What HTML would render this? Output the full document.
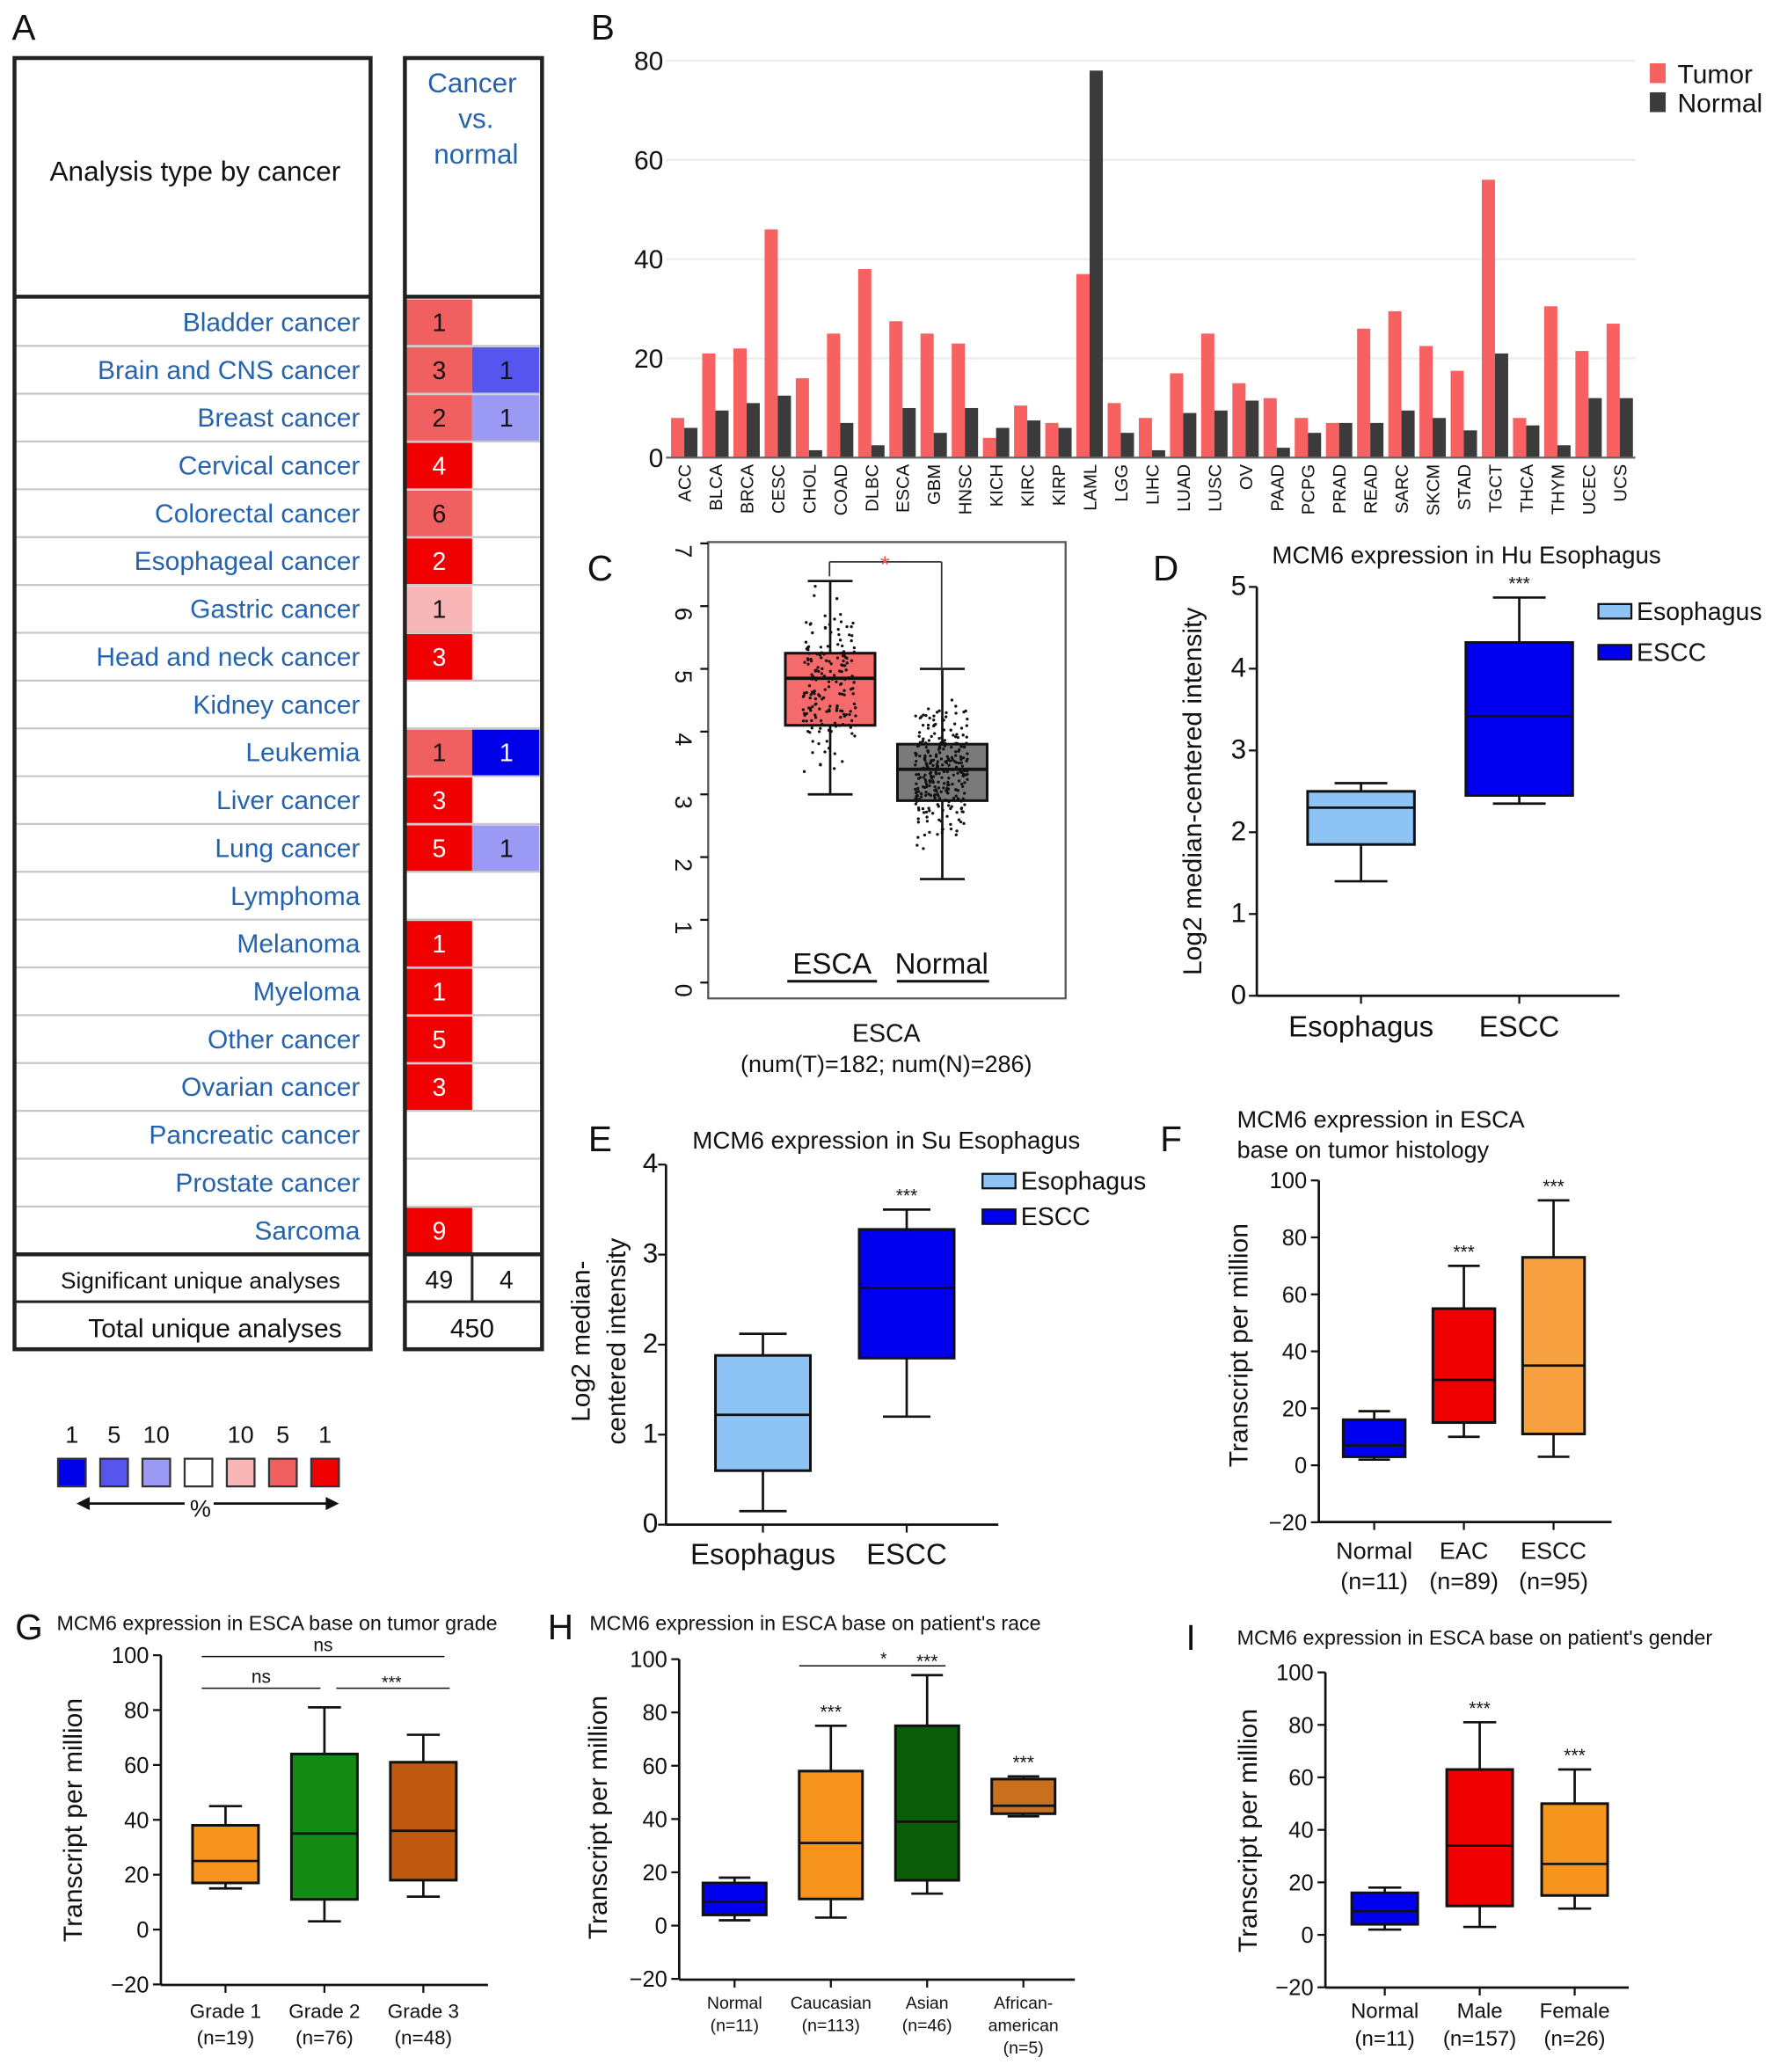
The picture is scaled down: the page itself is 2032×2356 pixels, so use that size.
<!DOCTYPE html>
<html><head><meta charset="utf-8"><style>
html,body{margin:0;padding:0;background:#fff}
svg{display:block;font-family:"Liberation Sans",Arial,sans-serif}
</style></head><body>
<svg id="fig" width="2032" height="2356" viewBox="0 0 1355 1571" preserveAspectRatio="none" xmlns="http://www.w3.org/2000/svg"></svg>
<script>
// ---------- DATA ----------
const bCats=["ACC","BLCA","BRCA","CESC","CHOL","COAD","DLBC","ESCA","GBM","HNSC","KICH","KIRC","KIRP","LAML","LGG","LIHC","LUAD","LUSC","OV","PAAD","PCPG","PRAD","READ","SARC","SKCM","STAD","TGCT","THCA","THYM","UCEC","UCS"];
const bTumor=[8,21,22,46,16,25,38,27.5,25,23,4,10.5,7,37,11,8,17,25,15,12,8,7,26,29.5,22.5,17.5,56,8,30.5,21.5,27];
const bNormal=[6,9.5,11,12.5,1.5,7,2.5,10,5,10,6,7.5,6,78,5,1.5,9,9.5,11.5,2,5,7,7,9.5,8,5.5,21,6.5,2.5,12,12];
const bTicks=[0,20,40,60,80];

const aRows=["Bladder cancer","Brain and CNS cancer","Breast cancer","Cervical cancer","Colorectal cancer","Esophageal cancer","Gastric cancer","Head and neck cancer","Kidney cancer","Leukemia","Liver cancer","Lung cancer","Lymphoma","Melanoma","Myeloma","Other cancer","Ovarian cancer","Pancreatic cancer","Prostate cancer","Sarcoma"];
const aUp=[1,3,2,4,6,2,1,3,0,1,3,5,0,1,1,5,3,0,0,9];
const aUpRank=[2,2,2,1,2,1,3,1,0,2,1,1,0,1,1,1,1,0,0,1];
const aDown=[0,1,1,0,0,0,0,0,0,1,0,1,0,0,0,0,0,0,0,0];
const aDownRank=[0,2,3,0,0,0,0,0,0,1,0,3,0,0,0,0,0,0,0,0];

const cCats=["ESCA","Normal"];
const cLow=[3.0,1.65],cQ1=[4.1,2.9],cMed=[4.85,3.4],cQ3=[5.25,3.8],cHigh=[6.4,5.0];
const cTicks=[0,1,2,3,4,5,6,7];

const dCats=["Esophagus","ESCC"];
const dLow=[1.4,2.35],dQ1=[1.85,2.45],dMed=[2.3,3.42],dQ3=[2.5,4.32],dHigh=[2.6,4.87];
const dTicks=[0,1,2,3,4,5];

const eCats=["Esophagus","ESCC"];
const eLow=[0.15,1.2],eQ1=[0.6,1.85],eMed=[1.22,2.63],eQ3=[1.88,3.28],eHigh=[2.12,3.5];
const eTicks=[0,1,2,3,4];

const fCats=["Normal","EAC","ESCC"],fN=["(n=11)","(n=89)","(n=95)"];
const fLow=[2,10,3],fQ1=[3,15,11],fMed=[7,30,35],fQ3=[16,55,73],fHigh=[19,70,93];
const tpmTicks=[-20,0,20,40,60,80,100];

const gCats=["Grade 1","Grade 2","Grade 3"],gN=["(n=19)","(n=76)","(n=48)"];
const gLow=[15,3,12],gQ1=[17,11,18],gMed=[25,35,36],gQ3=[38,64,61],gHigh=[45,81,71];

const hCats=["Normal","Caucasian","Asian","African-"],hN=["(n=11)","(n=113)","(n=46)","american"];
const hLow=[2,3,12,41],hQ1=[4,10,17,42],hMed=[9,31,39,45],hQ3=[16,58,75,55],hHigh=[18,75,94,56];

const iCats=["Normal","Male","Female"],iN=["(n=11)","(n=157)","(n=26)"];
const iLow=[2,3,10],iQ1=[4,11,15],iMed=[9,34,27],iQ3=[16,63,50],iHigh=[18,81,63];

// ---------- HELPERS ----------
const NS="http://www.w3.org/2000/svg";
const svg=document.getElementById('fig');
function el(tag,attrs,name){
  const e=document.createElementNS(NS,tag);
  for(const k in attrs)e.setAttribute(k,attrs[k]);
  
  
  svg.appendChild(e);return e;
}
function txt(x,y,s,size,name,opt){
  opt=opt||{};
  const a={x:x,y:y,'font-size':size,fill:opt.fill||'#111','text-anchor':opt.anchor||'middle'};
  if(opt.rot!==undefined)a.transform='rotate('+opt.rot+' '+x+' '+y+')';
  if(opt.weight)a['font-weight']=opt.weight;
  const t=el('text',a,name);t.textContent=s;return t;
}
function line(x1,y1,x2,y2,name,w,c){return el('line',{x1:x1,y1:y1,x2:x2,y2:y2,stroke:c||'#111','stroke-width':w||1.5},name);}
function rect(x,y,w,h,fill,name,stroke,sw){const a={x:x,y:y,width:w,height:h,fill:fill};if(stroke){a.stroke=stroke;a['stroke-width']=sw||2;}return el('rect',a,name);}

function boxPanel(o){
  const ys=v=>o.y0+(v-o.v0)*(o.y1-o.y0)/(o.v1-o.v0);
  const n=o.cats.length;
  const band=(o.xEnd-o.xStart)/n;
  if(o.axes){
    line(o.ax,o.y1,o.ax,o.yBottom,'y-axis-line',1.8);
    line(o.ax,o.yBottom,o.axEnd,o.yBottom,'x-axis-line',1.8);
  }
  o.ticks.forEach(t=>{
    line(o.ax-6,ys(t),o.ax,ys(t),'y-tick',1.5);
    txt(o.ax-(o.tickGap||9),ys(t)+6,t===-20?'\u221220':String(t),o.tickSize||18,'y-tick-label',{anchor:'end'});
  });
  for(let i=0;i<n;i++){
    const c=o.xStart+band*(i+0.5),w=o.bw,cap=o.cap||w/2;
    if(o.axes)line(c,o.yBottom,c,o.yBottom+6,'x-tick',1.5);
    line(c,ys(o.high[i]),c,ys(o.q3[i]),'whisker-upper',1.8);
    line(c,ys(o.low[i]),c,ys(o.q1[i]),'whisker-lower',1.8);
    line(c-cap/2,ys(o.high[i]),c+cap/2,ys(o.high[i]),'whisker-cap',1.8);
    line(c-cap/2,ys(o.low[i]),c+cap/2,ys(o.low[i]),'whisker-cap',1.8);
    rect(c-w/2,ys(o.q3[i]),w,ys(o.q1[i])-ys(o.q3[i]),o.colors[i],'box-'+o.cats[i].toLowerCase().replace(/[^a-z0-9]+/g,''),'#111',2);
    line(c-w/2,ys(o.med[i]),c+w/2,ys(o.med[i]),'median-line',o.medW||1.8);
    if(o.labelY){
      txt(c,o.labelY,o.cats[i],o.labelSize,'x-category-label');
      if(o.ns)txt(c,o.labelY+o.lineGap,o.ns[i],o.labelSize,'x-category-n');
    }
    if(o.stars&&o.stars[i])txt(c,ys(o.high[i])-6,o.stars[i],o.starSize||14,'significance-stars');
  }
  return ys;
}

// ---------- PANEL LETTERS ----------
[["A",18,30],["B",457,30],["C",455,440],["D",884,440],["E",455,873],["F",888,873],["G",22,1243],["H",425,1243],["I",903,1251]].forEach(p=>txt(p[1],p[2],p[0],27,'panel-letter-'+p[0].toLowerCase(),{anchor:'middle'}));

// ---------- PANEL A ----------
(function(){
  const top=226,rh=36.25;
  for(let i=0;i<aRows.length;i++){
    const y=top+i*rh;
    if(i>0){line(12,y,280,y,'row-divider',1.5,'#c8c8c8');line(308,y,410,y,'row-divider',1.5,'#c8c8c8');}
    txt(273,y+25,aRows[i],20,'cancer-type-label',{anchor:'end',fill:'#2563ad'});
    const upC=['#fff','#f00000','#f06060','#f8b6b6'][aUpRank[i]];
    if(aUp[i]>0){rect(308,y+1,50,rh-1,upC,'upregulated-cell');txt(333,y+25,String(aUp[i]),19,'upregulated-count',{fill:aUpRank[i]===1?'#fff':'#111'});}
    const dnC=['#fff','#0000e8','#5656ee','#9a9af4'][aDownRank[i]];
    if(aDown[i]>0){rect(358,y+1,51,rh-1,dnC,'downregulated-cell');txt(384,y+25,String(aDown[i]),19,'downregulated-count',{fill:aDownRank[i]===1?'#fff':'#111'});}
  }
  rect(11,44,270,979,'none','analysis-table-left','#222',3);
  rect(307,44,104,979,'none','analysis-table-right','#222',3);
  line(11,225,281,225,'header-separator',3,'#222');line(307,225,411,225,'header-separator',3,'#222');
  line(11,951,281,951,'summary-separator',3,'#222');line(307,951,411,951,'summary-separator',3,'#222');
  line(11,987,281,987,'summary-row-line',2,'#222');line(307,987,411,987,'summary-row-line',2,'#222');
  line(358,951,358,987,'summary-col-divider',2,'#222');
  txt(148,137,'Analysis type by cancer',21,'table-header-label');
  txt(358,70,'Cancer',21,'header-cancer',{fill:'#2563ad'});
  txt(361,97,'vs.',21,'header-vs',{fill:'#2563ad'});
  txt(361,124,'normal',21,'header-normal',{fill:'#2563ad'});
  txt(152,977,'Significant unique analyses',17.5,'significant-analyses-label');
  txt(333,977,'49',19,'significant-up-count');txt(384,977,'4',19,'significant-down-count');
  txt(163,1014,'Total unique analyses',20,'total-analyses-label');
  txt(358,1014,'450',20,'total-analyses-count');
  const legCols=['#0000e8','#5656ee','#9a9af4','#fff','#f8b6b6','#f06060','#f00000'];
  const legLab=['1','5','10','','10','5','1'];
  legCols.forEach((c,i)=>{const x=44+i*32;rect(x,1106,21,21,c,'legend-swatch','#333',1.5);if(legLab[i])txt(x+10.5,1094,legLab[i],18,'legend-percent-label');});
  line(140,1140,64,1140,'legend-arrow-left',1.8);el('path',{d:'M58 1140 L68 1135 L68 1145 Z',fill:'#111'},'arrow-head');
  line(162,1140,250,1140,'legend-arrow-right',1.8);el('path',{d:'M257 1140 L247 1135 L247 1145 Z',fill:'#111'},'arrow-head');
  txt(152,1150,'%',18,'legend-percent-symbol');
})();

// ---------- PANEL B ----------
(function(){
  const y0=347,y1=46,x0=505,x1=1240;
  const ys=v=>y0+(y1-y0)*v/80;
  const xStart=507,xEnd=1240;
  const step=(xEnd-xStart)/bCats.length;
  bTicks.forEach(t=>{
    line(x0,ys(t),x1,ys(t),'gridline',1.5,'#ececec');
    txt(503,ys(t)+7,String(t),20,'y-tick-label',{anchor:'end'});
  });
  bCats.forEach((c,i)=>{
    const cx=xStart+step*(i+0.5);
    rect(cx-10,ys(bTumor[i]),10,y0-ys(bTumor[i]),'#f86161','bar-tumor-'+c.toLowerCase());
    rect(cx,ys(bNormal[i]),10,y0-ys(bNormal[i]),'#3b3b3b','bar-normal-'+c.toLowerCase());
    txt(cx+5,352,c,13.5,'x-tick-label',{anchor:'end',rot:-90});
  });
  line(x0,y0,x1,y0,'x-axis-line',1.5,'#666');
  rect(1251,48,12,15,'#f86161','legend-tumor-swatch');txt(1272,63,'Tumor',20,'legend-tumor-label',{anchor:'start'});
  rect(1251,70,12,15,'#3b3b3b','legend-normal-swatch');txt(1272,85,'Normal',20,'legend-normal-label',{anchor:'start'});
})();

// ---------- PANEL C ----------
(function(){
  rect(537,411,271,346,'none','plot-frame-c','#555',1.5);
  const o={cats:cCats,low:cLow,q1:cQ1,med:cMed,q3:cQ3,high:cHigh,colors:['#f56a6a','#7a7a7a'],
    v0:0,v1:7,y0:745,y1:412,xStart:587,xEnd:757,bw:68,cap:34,ax:537,axEnd:808,yBottom:757,ticks:[],medW:2.5};
  const ys=boxPanel(o);
  cTicks.forEach(t=>{line(531,ys(t),537,ys(t),'y-tick',1.5);txt(512,ys(t)+6,String(t),18,'y-tick-label',{rot:90});});
  // jitter dots (deterministic pseudo-jitter)
  let s=7;const r=()=>{s=(s*9301+49297)%233280;return s/233280;};
  const centers=[629,714],counts=[182,286];
  for(let k=0;k<2;k++){
    for(let j=0;j<counts[k];j++){
      const u=(r()+r()+r())/3;
      const v=(cQ1[k]+cQ3[k])/2+(u-0.5)*3.2*(cQ3[k]-cQ1[k])+(cMed[k]-(cQ1[k]+cQ3[k])/2);
      const vv=Math.max(cLow[k]-0.3,Math.min(cHigh[k],v));
      el('circle',{cx:centers[k]+(r()-0.5)*40,cy:ys(vv),r:1.1,fill:'#111'},'jitter-dot');
    }
  }
  line(629,437,629,426,'sig-bracket',1.2,'#333');line(629,426,714,426,'sig-bracket',1.2,'#333');line(714,426,714,512,'sig-bracket',1.2,'#333');
  txt(671,434,'*',18,'significance-star',{fill:'#f05050'});
  txt(631,738,'ESCA',22,'x-category-label');line(597,744,665,744,'label-underline',2);
  txt(714,738,'Normal',22,'x-category-label');line(680,744,750,744,'label-underline',2);
  txt(672,790,'ESCA',19,'x-axis-title');
  txt(672,813,'(num(T)=182; num(N)=286)',18,'x-axis-subtitle');
})();

// ---------- PANEL D ----------
boxPanel({cats:dCats,low:dLow,q1:dQ1,med:dMed,q3:dQ3,high:dHigh,colors:['#8ec3f5','#0000ee'],
  v0:0,v1:5,y0:755,y1:445,xStart:972,xEnd:1212,bw:81,cap:40,ax:953,axEnd:1228,yBottom:755,ticks:dTicks,axes:true,
  labelY:786,labelSize:22,tickSize:21,tickGap:8,stars:['','***']});
txt(1112,427,'MCM6 expression in Hu Esophagus',18.5,'chart-title-d');
txt(911,600,'Log2 median-centered intensity',20,'y-axis-title-d',{rot:-90});
rect(1212,458,25,11,'#8ec3f5','legend-esophagus-swatch','#111',1.5);txt(1241,470,'Esophagus',19,'legend-esophagus-label',{anchor:'start'});
rect(1212,489,25,11,'#0000ee','legend-escc-swatch','#111',1.5);txt(1241,501,'ESCC',19,'legend-escc-label',{anchor:'start'});

// ---------- PANEL E ----------
boxPanel({cats:eCats,low:eLow,q1:eQ1,med:eMed,q3:eQ3,high:eHigh,colors:['#8ec3f5','#0000ee'],
  v0:0,v1:4,y0:1156,y1:883,xStart:524,xEnd:742,bw:72,cap:36,ax:505,axEnd:757,yBottom:1156,ticks:eTicks,axes:true,
  labelY:1186,labelSize:22,tickSize:21,tickGap:6,stars:['','***']});
txt(672,871,'MCM6 expression in Su Esophagus',18.5,'chart-title-e');
txt(447,1017,'Log2 median-',20,'y-axis-title-e-line1',{rot:-90});
txt(474,1017,'centered intensity',20,'y-axis-title-e-line2',{rot:-90});
rect(745,890,25,11,'#8ec3f5','legend-esophagus-swatch','#111',1.5);txt(774,902,'Esophagus',19,'legend-esophagus-label',{anchor:'start'});
rect(745,917,25,11,'#0000ee','legend-escc-swatch','#111',1.5);txt(774,929,'ESCC',19,'legend-escc-label',{anchor:'start'});

// ---------- PANEL F ----------
boxPanel({cats:fCats,ns:fN,low:fLow,q1:fQ1,med:fMed,q3:fQ3,high:fHigh,colors:['#0000ee','#f00000','#f7a040'],
  v0:0,v1:100,y0:1111,y1:895,xStart:1008,xEnd:1212,bw:47,cap:24,ax:1000,axEnd:1222,yBottom:1154,ticks:tpmTicks,axes:true,
  labelY:1182,lineGap:23,labelSize:18,tickSize:17,stars:['','***','***']});
txt(938,855,'MCM6 expression in ESCA',18,'chart-title-f-line1',{anchor:'start'});
txt(938,878,'base on tumor histology',18,'chart-title-f-line2',{anchor:'start'});
txt(946,1020,'Transcript per million',20,'y-axis-title-f',{rot:-90});

// ---------- PANEL G ----------
boxPanel({cats:gCats,ns:gN,low:gLow,q1:gQ1,med:gMed,q3:gQ3,high:gHigh,colors:['#f7941d','#138a13','#c05a10'],
  v0:0,v1:100,y0:1463,y1:1255,xStart:133.5,xEnd:358.5,bw:50,cap:25,ax:122,axEnd:370,yBottom:1505,ticks:tpmTicks,axes:true,
  labelY:1530,lineGap:20,labelSize:15,tickSize:17});
txt(43,1236,'MCM6 expression in ESCA base on tumor grade',15.5,'chart-title-g',{anchor:'start'});
txt(62,1380,'Transcript per million',20,'y-axis-title-g',{rot:-90});
line(153,1256,337,1256,'sig-line-ns',1);txt(245,1252,'ns',14,'sig-label-ns');
line(153,1280,243,1280,'sig-line-ns',1);txt(198,1276,'ns',14,'sig-label-ns');
line(255,1280,341,1280,'sig-line-stars',1);txt(297,1280,'***',13,'sig-label-stars');

// ---------- PANEL H ----------
boxPanel({cats:hCats,ns:hN,low:hLow,q1:hQ1,med:hMed,q3:hQ3,high:hHigh,colors:['#0000ee','#f7941d','#0a5c0a','#c87020'],
  v0:0,v1:100,y0:1460,y1:1258,xStart:520.5,xEnd:812.5,bw:48,cap:24,ax:515,axEnd:815,yBottom:1501,ticks:tpmTicks,axes:true,
  labelY:1523,lineGap:17,labelSize:13,tickSize:17,stars:['','***','***','***']});
txt(776,1557,'(n=5)',13,'x-category-n');
txt(447,1236,"MCM6 expression in ESCA base on patient's race",15.5,'chart-title-h',{anchor:'start'});
txt(460,1378,'Transcript per million',20,'y-axis-title-h',{rot:-90});
line(606,1263,717,1263,'sig-line-star',1);txt(670,1262,'*',13,'sig-label-star');

// ---------- PANEL I ----------
boxPanel({cats:iCats,ns:iN,low:iLow,q1:iQ1,med:iMed,q3:iQ3,high:iHigh,colors:['#0000ee','#f00000','#f7941d'],
  v0:0,v1:100,y0:1467,y1:1268,xStart:1014,xEnd:1230,bw:50,cap:25,ax:1005,axEnd:1235,yBottom:1507,ticks:tpmTicks,axes:true,
  labelY:1530,lineGap:21,labelSize:16,tickSize:17,stars:['','***','***']});
txt(938,1247,"MCM6 expression in ESCA base on patient's gender",15.5,'chart-title-i',{anchor:'start'});
txt(953,1388,'Transcript per million',20,'y-axis-title-i',{rot:-90});
</script>
</body></html>
